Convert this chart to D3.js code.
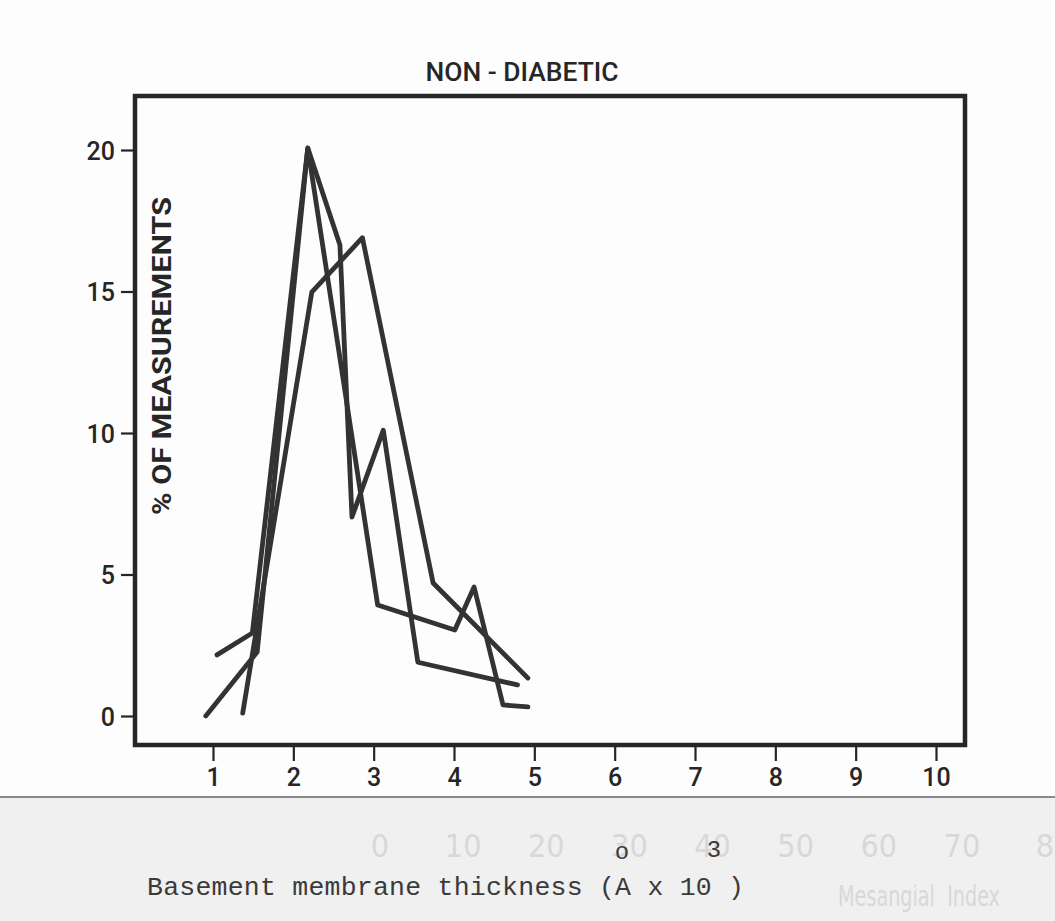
<!DOCTYPE html>
<html>
<head>
<meta charset="utf-8">
<script src="https://cdn.jsdelivr.net/npm/d3@7"></script>
<style>
  html, body { margin: 0; padding: 0; background: #fdfdfd; }
  svg { display: block; }
</style>
</head>
<body>
<svg id="chart" width="1055" height="921"></svg>
<script>
// ---- data ----
const title = "NON - DIABETIC";
const yAxisLabel = "% OF MEASUREMENTS";
const xTickValues = [1, 2, 3, 4, 5, 6, 7, 8, 9, 10];
const yTickValues = [0, 5, 10, 15, 20];

const seriesAX = [0.91, 1.55, 2.18, 2.58, 2.73, 3.12, 3.55, 4.79];
const seriesAY = [0.0, 2.26, 20.07, 16.64, 7.03, 10.1, 1.9, 1.1];

const seriesBX = [1.05, 1.49, 2.18, 3.05, 4.01, 4.25, 4.61, 4.92];
const seriesBY = [2.16, 2.93, 20.07, 3.92, 3.04, 4.56, 0.39, 0.32];

const seriesCX = [1.37, 2.23, 2.86, 3.74, 4.92];
const seriesCY = [0.1, 14.98, 16.9, 4.7, 1.34];

const ghostTicks = ["0", "10", "20", "30", "40", "50", "60", "70", "8"];
const ghostLabel = "Mesangial  Index";

// ---- layout ----
const svg = d3.select("#chart");
const box = { left: 135, top: 96, right: 965, bottom: 745 };
const ink = "#262626";
const sansFont = "Roboto, 'DejaVu Sans', sans-serif";

const x = d3.scaleLinear().domain([1, 10]).range([213, 936]);
const y = d3.scaleLinear().domain([0, 20]).range([716, 150]);

// lower scanned strip (another page showing through)
svg.append("rect").attr("x", 0).attr("y", 797).attr("width", 1055).attr("height", 124)
  .attr("fill", "#f0f0f0");
svg.append("line").attr("x1", 0).attr("x2", 1055).attr("y1", 797).attr("y2", 797)
  .attr("stroke", "#8a8a8a").attr("stroke-width", 2);

// ghost text
const ghostFont = "'DejaVu Sans Condensed', 'DejaVu Sans', sans-serif";
const ghostX = d3.scalePoint().domain(ghostTicks).range([380, 1045]);
svg.append("g").selectAll("text").data(ghostTicks).join("text")
  .attr("x", d => ghostX(d)).attr("y", 857)
  .attr("text-anchor", "middle")
  .attr("font-family", ghostFont)
  .attr("font-size", 32).attr("fill", "#d8d8d8").text(d => d);
const ghostText = svg.append("text")
  .attr("font-family", ghostFont)
  .attr("font-size", 29).attr("fill", "#d8d8d8")
  .attr("xml:space", "preserve")
  .text(ghostLabel);
const ghostLen = ghostText.node().getComputedTextLength() || 240;
ghostText.attr("transform", `translate(838,906) scale(${162 / ghostLen},1)`);

// title
svg.append("text").attr("x", 522).attr("y", 81).attr("text-anchor", "middle")
  .attr("font-family", sansFont).attr("font-weight", 500).attr("font-size", 25).attr("fill", ink)
  .attr("xml:space", "preserve")
  .attr("textLength", 193).attr("lengthAdjust", "spacingAndGlyphs")
  .text(title);

// frame
svg.append("rect")
  .attr("x", box.left).attr("y", box.top)
  .attr("width", box.right - box.left).attr("height", box.bottom - box.top)
  .attr("fill", "none").attr("stroke", ink).attr("stroke-width", 4.5);

// x axis
const xAxis = d3.axisBottom(x).tickValues(xTickValues).tickSize(14).tickPadding(7)
  .tickFormat(d3.format("d"));
const gx = svg.append("g").attr("transform", `translate(0,${box.bottom + 2})`).call(xAxis);
gx.select(".domain").remove();
gx.selectAll(".tick line").attr("stroke", ink).attr("stroke-width", 2.2);
gx.selectAll(".tick text").attr("fill", ink).attr("font-family", sansFont)
  .attr("font-weight", 500).attr("font-size", 25);

// y axis
const yAxis = d3.axisLeft(y).tickValues(yTickValues).tickSize(13).tickPadding(6)
  .tickFormat(d3.format("d"));
const gy = svg.append("g").attr("transform", `translate(${box.left - 1},0)`).call(yAxis);
gy.select(".domain").remove();
gy.selectAll(".tick line").attr("stroke", ink).attr("stroke-width", 2.2);
gy.selectAll(".tick text").attr("fill", ink).attr("font-family", sansFont)
  .attr("font-weight", 500).attr("font-size", 25).attr("dy", "0.36em");

// y label (inside the frame)
svg.append("text")
  .attr("transform", "translate(171,356) rotate(-90)")
  .attr("text-anchor", "middle")
  .attr("font-family", sansFont).attr("font-weight", 700).attr("font-size", 25).attr("fill", ink)
  .attr("textLength", 318).attr("lengthAdjust", "spacingAndGlyphs")
  .text(yAxisLabel);

// lines
const line = d3.line().x(d => x(d[0])).y(d => y(d[1]));
const series = [
  d3.zip(seriesAX, seriesAY),
  d3.zip(seriesBX, seriesBY),
  d3.zip(seriesCX, seriesCY)
];
svg.append("g").selectAll("path").data(series).join("path")
  .attr("d", line)
  .attr("fill", "none").attr("stroke", "#333333").attr("stroke-width", 4.8)
  .attr("stroke-linejoin", "round").attr("stroke-linecap", "round");

// bottom caption (typewritten)
const mono = "'Courier New', 'Liberation Mono', monospace";
svg.append("text").attr("x", 147).attr("y", 895)
  .attr("font-family", mono).attr("font-size", 26.5).attr("fill", "#3a3a3a")
  .attr("xml:space", "preserve")
  .attr("textLength", 597).attr("lengthAdjust", "spacing")
  .text("Basement membrane thickness (A x 10 )");
svg.append("text").attr("x", 622).attr("y", 859).attr("text-anchor", "middle")
  .attr("font-family", mono).attr("font-size", 24).attr("fill", "#3a3a3a").text("o");
svg.append("text").attr("x", 714).attr("y", 857).attr("text-anchor", "middle")
  .attr("font-family", mono).attr("font-size", 24).attr("fill", "#3a3a3a").text("3");
</script>
</body>
</html>
